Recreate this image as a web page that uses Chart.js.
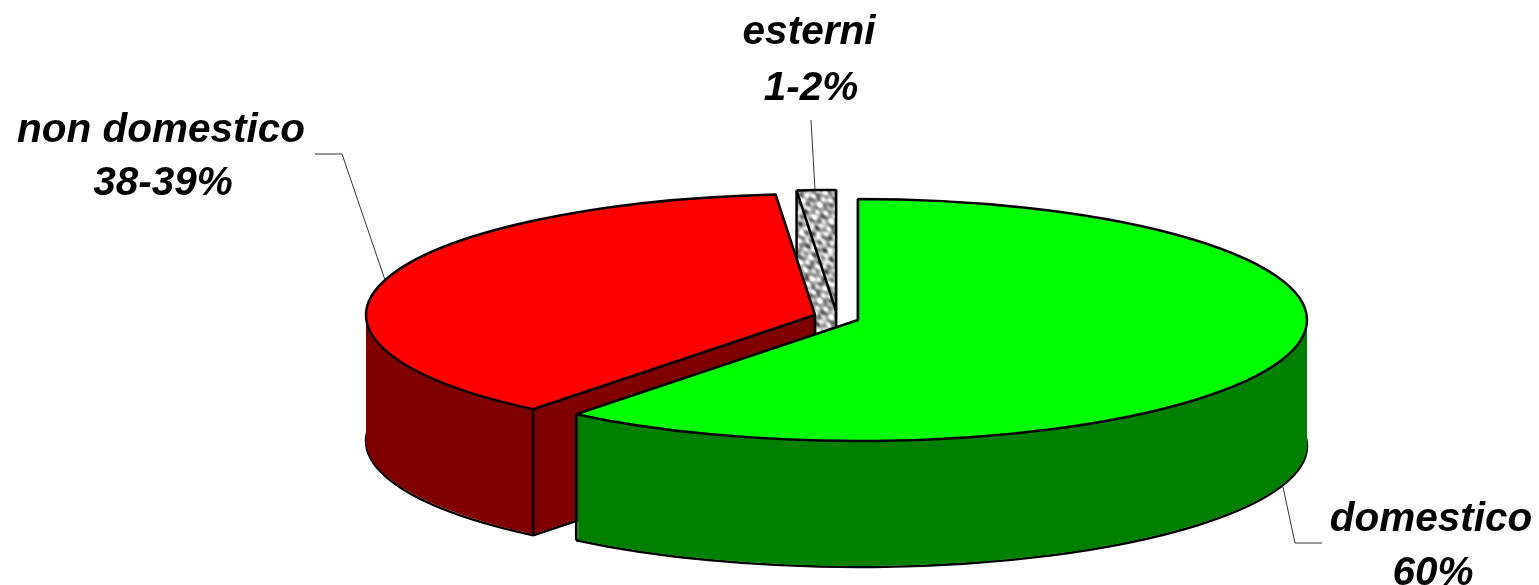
<!DOCTYPE html>
<html>
<head>
<meta charset="utf-8">
<style>
    html, body { margin: 0; padding: 0; background: #fff; overflow: hidden; }
    canvas { display: block; }
</style>
<script src="https://cdn.jsdelivr.net/npm/chart.js@4"></script>
</head>
<body>
<canvas id="torta" width="1539" height="585"></canvas>
<script>
const categorie = ['domestico', 'non domestico', 'esterni'];
const valori = [60.8, 37.8, 1.4];
const etichette = ['60%', '38-39%', '1-2%'];

const coloriSopra = ['#00ff00', '#ff0000', null];
const coloriLato = ['#008000', '#800000', null];

// centro di ogni fetta sulla pagina (fette staccate)
const centri = [[858, 320], [815, 315], [836, 311]];
const raggioX = 449;
const raggioY = 121;
const spessore = 126;
const tratto = 2.5;
const ordine = [2, 1, 0]; // dal fondo verso chi guarda

const posTesti = [[1431, 520, 1433, 574], [161, 131, 163, 184], [809, 33, 811, 89]];
const guide = [
    [[1322, 543], [1295, 543], [1283, 487]],
    [[315, 154], [342, 154], [385, 280]],
    [[811, 120], [815, 190]]
];

// trama granito della fetta grigia
function creaTrama(ctx) {
    const lato = 96;
    const c = document.createElement('canvas');
    c.width = lato;
    c.height = lato;
    const g = c.getContext('2d');
    const img = g.createImageData(lato, lato);
    const k = 2 * Math.PI / lato;
    for (let y = 0; y < lato; y++) {
        for (let x = 0; x < lato; x++) {
            const v = Math.sin(k * (5 * x + 3 * y) + 1) + Math.sin(k * (7 * x - 6 * y) + 2)
                + Math.sin(k * (3 * x + 9 * y) + 4) + Math.sin(k * (11 * x + 4 * y) + 5)
                + Math.sin(k * (13 * x - 9 * y) + 3) + Math.sin(k * (4 * x - 14 * y) + 6);
            const grigio = 178 + v * 24;
            const i = (y * lato + x) * 4;
            img.data[i] = img.data[i + 1] = img.data[i + 2] = grigio;
            img.data[i + 3] = 255;
        }
    }
    g.putImageData(img, 0, 0);
    return ctx.createPattern(c, 'repeat');
}

const canvas = document.getElementById('torta');
const ctx = canvas.getContext('2d');
const trama = creaTrama(ctx);

function disegnaFetta(arco, i, dy, fill, bordo) {
    const sx = raggioX / arco.outerRadius;
    const sy = raggioY / arco.outerRadius;
    const originali = arco.options;
    arco.options = Object.assign({}, originali, {
        backgroundColor: fill || 'rgba(0,0,0,0)',
        borderColor: '#000',
        borderWidth: bordo ? tratto : 0
    });
    ctx.save();
    ctx.translate(centri[i][0], centri[i][1] + dy);
    ctx.scale(sx, sy);
    ctx.translate(-arco.x, -arco.y);
    // il tracciato resta schiacciato, tratto e trama no
    ctx.stroke = function() {
        ctx.save();
        ctx.setTransform(1, 0, 0, 1, 0, 0);
        ctx.lineWidth = tratto;
        CanvasRenderingContext2D.prototype.stroke.call(ctx);
        ctx.restore();
    };
    ctx.fill = function() {
        ctx.save();
        ctx.setTransform(1, 0, 0, 1, 0, 0);
        CanvasRenderingContext2D.prototype.fill.call(ctx);
        ctx.restore();
    };
    arco.draw(ctx);
    delete ctx.stroke;
    delete ctx.fill;
    ctx.restore();
    arco.options = originali;
}

function spigolo(x, y) {
    ctx.beginPath();
    ctx.moveTo(x, y);
    ctx.lineTo(x, y + spessore);
    ctx.lineWidth = tratto;
    ctx.strokeStyle = '#000';
    ctx.stroke();
}

const torta3d = {
    id: 'torta3d',
    beforeDatasetsDraw(chart) {
        const archi = chart.getDatasetMeta(0).data;
        ordine.forEach(function(i) {
            const arco = archi[i];
            const lato = coloriLato[i] || trama;
            const sopra = coloriSopra[i] || trama;
            const cx = centri[i][0], cy = centri[i][1];
            disegnaFetta(arco, i, spessore, null, true);
            for (let dy = spessore - 1; dy > 0; dy--) {
                disegnaFetta(arco, i, dy, lato, false);
            }
            [arco.startAngle, arco.endAngle].forEach(function(a) {
                spigolo(cx + raggioX * Math.cos(a), cy + raggioY * Math.sin(a));
            });
            if (i !== 0) spigolo(cx, cy); // quello del verde resta nascosto
            disegnaFetta(arco, i, 0, sopra, true);
        });
        return false;
    },
    afterDraw() {
        ctx.save();
        ctx.strokeStyle = '#333';
        ctx.lineWidth = 1;
        guide.forEach(function(g) {
            ctx.beginPath();
            g.forEach(function(p, n) {
                if (n === 0) ctx.moveTo(p[0], p[1]);
                else ctx.lineTo(p[0], p[1]);
            });
            ctx.stroke();
        });
        ctx.fillStyle = '#000';
        ctx.font = 'italic bold 40.5px "Liberation Sans"';
        ctx.textAlign = 'center';
        ctx.textBaseline = 'middle';
        categorie.forEach(function(nome, i) {
            const p = posTesti[i];
            ctx.fillText(nome, p[0], p[1]);
            ctx.fillText(etichette[i], p[2], p[3]);
        });
        ctx.restore();
    }
};

new Chart(ctx, {
    type: 'pie',
    data: {
        labels: categorie,
        datasets: [{ data: valori, borderWidth: 0 }]
    },
    options: {
        responsive: false,
        animation: false,
        events: [],
        plugins: {
            legend: { display: false },
            tooltip: { enabled: false }
        }
    },
    plugins: [torta3d]
});
</script>
</body>
</html>
